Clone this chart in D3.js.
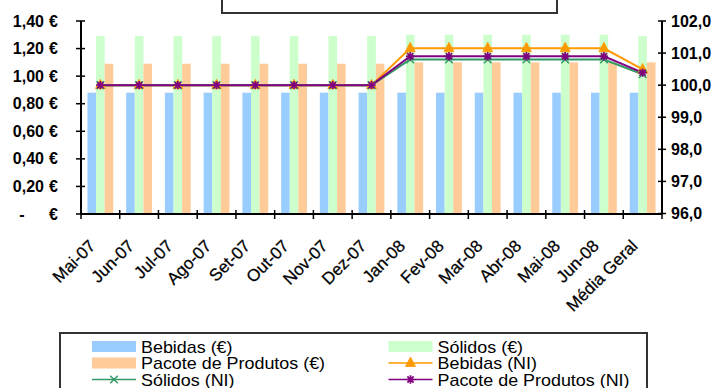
<!DOCTYPE html>
<html>
<head>
<meta charset="utf-8">
<script src="https://cdn.jsdelivr.net/npm/d3@7/dist/d3.min.js"></script>
<style>
  html, body { margin: 0; padding: 0; background: #fff; }
  svg { display: block; }
  text { font-family: "Liberation Sans", Arial, sans-serif; fill: #000; }
</style>
</head>
<body>
<svg id="chart" width="717" height="388"></svg>
<script>
// Monthly categories plus the overall average
const categories = ["Mai-07","Jun-07","Jul-07","Ago-07","Set-07","Out-07","Nov-07","Dez-07",
                    "Jan-08","Fev-08","Mar-08","Abr-08","Mai-08","Jun-08","Média Geral"];

// Average prices in euros (left axis, bars)
const bebidasEur = [0.88,0.88,0.88,0.88,0.88,0.88,0.88,0.88,0.88,0.88,0.88,0.88,0.88,0.88,0.88];
const solidosEur = [1.29,1.29,1.29,1.29,1.29,1.29,1.29,1.29,1.30,1.30,1.30,1.30,1.30,1.30,1.29];
const pacoteEur  = [1.09,1.09,1.09,1.09,1.09,1.09,1.09,1.09,1.10,1.10,1.10,1.10,1.10,1.10,1.10];

// Price indices (right axis, lines)
const bebidasNI = [100,100,100,100,100,100,100,100,101.15,101.15,101.15,101.15,101.15,101.15,100.49];
const solidosNI = [100,100,100,100,100,100,100,100,100.8,100.8,100.8,100.8,100.8,100.8,100.34];
const pacoteNI  = [100,100,100,100,100,100,100,100,100.9,100.9,100.9,100.9,100.9,100.9,100.39];

// Axis ticks
const leftTicks  = [0, 0.2, 0.4, 0.6, 0.8, 1.0, 1.2, 1.4];
const rightTicks = [96, 97, 98, 99, 100, 101, 102];

const svg = d3.select("#chart");

const plot = { left: 81, right: 662, top: 21, bottom: 214 };

const x = d3.scaleBand().domain(categories).range([plot.left, plot.right]).paddingInner(0).paddingOuter(0);
const yL = d3.scaleLinear().domain([0, 1.4]).range([plot.bottom, plot.top]);
const yR = d3.scaleLinear().domain([96, 102]).range([plot.bottom - 0.5, plot.top]);

// bars: three per category, 150% gap between groups
const barSeries = [
  { name: "Bebidas (€)", values: bebidasEur, color: "#99CCFF" },
  { name: "Sólidos (€)", values: solidosEur, color: "#CCFFCC" },
  { name: "Pacote de Produtos (€)", values: pacoteEur, color: "#FFCC99" }
];
const bw = x.bandwidth() / 4.5;
const inner = d3.scaleBand().domain(d3.range(barSeries.length))
  .range([bw * 0.75, x.bandwidth() - bw * 0.75]).padding(0);

const barsG = svg.append("g");
barSeries.forEach((s, si) => {
  barsG.selectAll(null).data(s.values).enter().append("rect")
    .attr("x", (d, i) => x(categories[i]) + inner(si))
    .attr("y", d => yL(d))
    .attr("width", inner.bandwidth())
    .attr("height", d => yL(0) - yL(d))
    .attr("fill", s.color);
});

// marker shapes
function triangle(g, cx, cy, color) {
  g.append("path").attr("d", `M${cx},${cy - 6}L${cx + 5},${cy + 3.5}L${cx - 5},${cy + 3.5}Z`)
    .attr("fill", color).attr("stroke", color).attr("stroke-width", 0.8);
}
function cross(g, cx, cy, color) {
  const r = 3.8;
  g.append("path").attr("d", `M${cx - r},${cy - r}L${cx + r},${cy + r}M${cx - r},${cy + r}L${cx + r},${cy - r}`)
    .attr("stroke", color).attr("stroke-width", 1.4).attr("fill", "none");
}
function star(g, cx, cy, color) {
  const r = 4.2, d = 3.1;
  g.append("path").attr("d",
      `M${cx},${cy - r}L${cx},${cy + r}M${cx - r},${cy}L${cx + r},${cy}` +
      `M${cx - d},${cy - d}L${cx + d},${cy + d}M${cx - d},${cy + d}L${cx + d},${cy - d}`)
    .attr("stroke", color).attr("stroke-width", 1.7).attr("fill", "none");
}

const lineSeries = [
  { name: "Bebidas (NI)", values: bebidasNI, color: "#FF9900", marker: triangle },
  { name: "Sólidos (NI)", values: solidosNI, color: "#339966", marker: cross },
  { name: "Pacote de Produtos (NI)", values: pacoteNI, color: "#800080", marker: star }
];

const line = d3.line()
  .x((d, i) => x(categories[i]) + x.bandwidth() / 2)
  .y(d => yR(d));

const linesG = svg.append("g");
lineSeries.forEach(s => {
  linesG.append("path").datum(s.values).attr("d", line)
    .attr("fill", "none").attr("stroke", s.color).attr("stroke-width", 2);
});
lineSeries.forEach(s => {
  s.values.forEach((v, i) => s.marker(linesG, x(categories[i]) + x.bandwidth() / 2, yR(v), s.color));
});

// axes
const axisG = svg.append("g");
const axisStroke = "#000";

// bottom axis
const bottomAxis = d3.axisBottom(x).tickSize(0).tickFormat("");
const bAx = axisG.append("g").attr("transform", `translate(0,${plot.bottom})`).call(bottomAxis);
bAx.select(".domain").remove();
axisG.append("line").attr("x1", plot.left).attr("x2", plot.right + 1)
  .attr("y1", plot.bottom).attr("y2", plot.bottom).attr("stroke", axisStroke).attr("stroke-width", 2);
const catEdges = categories.map(c => x(c)).concat([plot.right]);
axisG.selectAll(null).data(catEdges).enter().append("line")
  .attr("x1", d => d).attr("x2", d => d)
  .attr("y1", plot.bottom - 4).attr("y2", plot.bottom + 5)
  .attr("stroke", axisStroke).attr("stroke-width", 1.5);

// category labels, rotated
axisG.selectAll(null).data(categories).enter().append("text")
  .attr("transform", d => `translate(${x(d) + x.bandwidth() / 2 - 4},${plot.bottom + 33}) rotate(-45)`)
  .attr("text-anchor", "end")
  .style("font-size", "17px")
  .style("stroke", "#000").style("stroke-width", 0.25)
  .text(d => d);

// left axis
const leftAxis = d3.axisLeft(yL).tickValues(leftTicks).tickSize(0).tickFormat("");
const lAx = axisG.append("g").attr("transform", `translate(${plot.left},0)`).call(leftAxis);
lAx.select(".domain").remove();
axisG.append("line").attr("x1", plot.left).attr("x2", plot.left)
  .attr("y1", plot.top).attr("y2", plot.bottom + 1).attr("stroke", axisStroke).attr("stroke-width", 2);
axisG.selectAll(null).data(leftTicks).enter().append("line")
  .attr("x1", plot.left - 5).attr("x2", plot.left + 4)
  .attr("y1", d => yL(d)).attr("y2", d => yL(d))
  .attr("stroke", axisStroke).attr("stroke-width", 1.5);
const fmtEur = d3.format(".2f");
leftTicks.forEach(t => {
  const yy = yL(t) + 5.5;
  axisG.append("text").attr("x", t === 0 ? 22 : 44).attr("y", yy)
    .attr("text-anchor", t === 0 ? "middle" : "end")
    .style("font-size", "16px").style("font-weight", "bold")
    .text(t === 0 ? "-" : fmtEur(t).replace(".", ","));
  axisG.append("text").attr("x", 58).attr("y", yy).attr("text-anchor", "end")
    .style("font-size", "16px").style("font-weight", "bold").text("€");
});

// right axis
const rightAxis = d3.axisRight(yR).tickValues(rightTicks).tickSize(0).tickFormat("");
const rAx = axisG.append("g").attr("transform", `translate(${plot.right},0)`).call(rightAxis);
rAx.select(".domain").remove();
axisG.append("line").attr("x1", plot.right).attr("x2", plot.right)
  .attr("y1", plot.top).attr("y2", plot.bottom + 1).attr("stroke", axisStroke).attr("stroke-width", 2);
axisG.selectAll(null).data(rightTicks).enter().append("line")
  .attr("x1", plot.right - 4).attr("x2", plot.right + 4)
  .attr("y1", d => yR(d)).attr("y2", d => yR(d))
  .attr("stroke", axisStroke).attr("stroke-width", 1.5);
const fmtNI = d3.format(".1f");
axisG.selectAll(null).data(rightTicks).enter().append("text")
  .attr("x", 671).attr("y", d => yR(d) + 5.5)
  .style("font-size", "16px").style("font-weight", "bold")
  .text(d => fmtNI(d).replace(".", ","));

// title frame at the top
svg.append("rect").attr("x", 222).attr("y", -10).attr("width", 335).attr("height", 23)
  .attr("fill", "#fff").attr("stroke", "#333").attr("stroke-width", 2);

// legend
const leg = svg.append("g");
leg.append("rect").attr("x", 60).attr("y", 333).attr("width", 587).attr("height", 70)
  .attr("fill", "#fff").attr("stroke", "#333").attr("stroke-width", 2);

const legendItems = [
  { label: barSeries[0].name, kind: "bar", color: barSeries[0].color, col: 0, row: 0 },
  { label: barSeries[1].name, kind: "bar", color: barSeries[1].color, col: 1, row: 0 },
  { label: barSeries[2].name, kind: "bar", color: barSeries[2].color, col: 0, row: 1 },
  { label: lineSeries[0].name, kind: "line", color: lineSeries[0].color, marker: lineSeries[0].marker, col: 1, row: 1 },
  { label: lineSeries[1].name, kind: "line", color: lineSeries[1].color, marker: lineSeries[1].marker, col: 0, row: 2 },
  { label: lineSeries[2].name, kind: "line", color: lineSeries[2].color, marker: lineSeries[2].marker, col: 1, row: 2 }
];
const colX = [92, 388.5];
const rowY = [346.5, 363, 379.5];
legendItems.forEach(it => {
  const sx = colX[it.col], cy = rowY[it.row];
  if (it.kind === "bar") {
    leg.append("rect").attr("x", sx).attr("y", cy - 5.5).attr("width", 44).attr("height", 11).attr("fill", it.color);
  } else {
    leg.append("line").attr("x1", sx).attr("x2", sx + 44).attr("y1", cy).attr("y2", cy)
      .attr("stroke", it.color).attr("stroke-width", 1.5);
    it.marker(leg, sx + 22, cy, it.color);
  }
  leg.append("text")
    .attr("transform", `translate(${sx + 49},${cy + 6}) scale(1.12,1)`)
    .style("font-size", "16px")
    .text(it.label);
});
</script>
</body>
</html>
